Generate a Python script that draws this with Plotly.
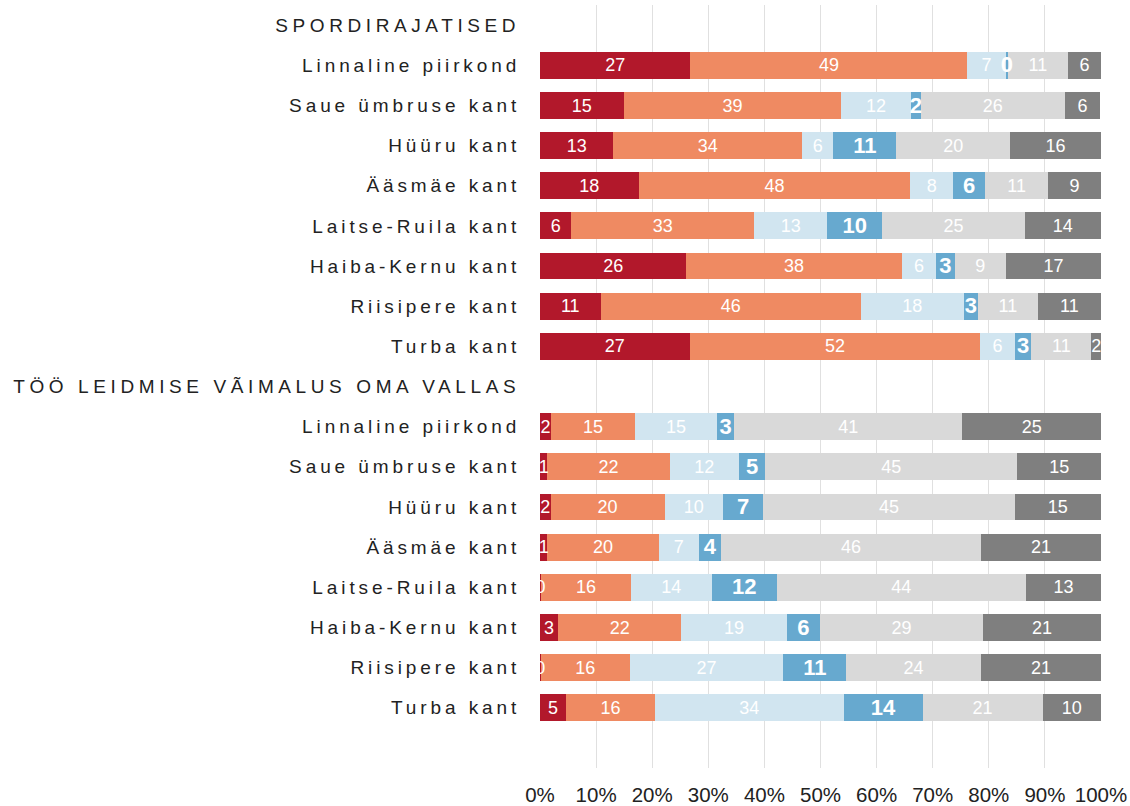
import plotly.graph_objects as go

# ---- data ----
groups = ["SPORDIRAJATISED", "TÖÖ LEIDMISE VÃIMALUS OMA VALLAS"]
areas = ["Linnaline piirkond", "Saue ümbruse kant", "Hüüru kant", "Ääsmäe kant",
         "Laitse-Ruila kant", "Haiba-Kernu kant", "Riisipere kant", "Turba kant"]
series_names = ["1", "2", "3", "4", "5", "6"]

# SPORDIRAJATISED (percent of respondents per answer category)
sport_s1 = [26.8, 14.9, 13.1, 17.6, 5.6, 26.1, 10.8, 26.7]
sport_s2 = [49.4, 38.8, 33.6, 48.4, 32.6, 38.4, 46.4, 51.8]
sport_s3 = [6.8, 12.4, 5.6, 7.7, 13.0, 6.1, 18.3, 6.1]
sport_s4 = [0.4, 1.8, 11.2, 5.6, 9.8, 3.3, 2.6, 3.0]
sport_s5 = [10.7, 25.6, 20.3, 11.3, 25.4, 9.2, 10.6, 10.7]
sport_s6 = [5.9, 6.4, 16.2, 9.4, 13.6, 16.9, 11.3, 1.7]

# TÖÖ LEIDMISE VÕIMALUS OMA VALLAS
job_s1 = [2.0, 1.3, 1.9, 1.3, 0.2, 3.2, 0.1, 4.6]
job_s2 = [14.9, 21.8, 20.3, 19.9, 16.0, 22.0, 15.9, 15.9]
job_s3 = [14.7, 12.4, 10.4, 7.1, 14.4, 18.8, 27.4, 33.6]
job_s4 = [3.0, 4.6, 7.2, 4.0, 11.6, 5.9, 11.2, 14.1]
job_s5 = [40.7, 45.0, 44.8, 46.3, 44.4, 29.1, 24.0, 21.4]
job_s6 = [24.7, 14.9, 15.4, 21.4, 13.4, 21.0, 21.4, 10.4]

x_ticks = [0, 10, 20, 30, 40, 50, 60, 70, 80, 90, 100]
x_tick_labels = [f"{v}%" for v in x_ticks]

# ---- styles ----
colors = ["#b2182b", "#ef8a62", "#d1e5f0", "#67a9cf", "#d9d9d9", "#7f7f7f"]
FONT = "Liberation Sans, Arial, Helvetica, sans-serif"
TEXT_DY = 0.04  # small vertical nudge so digits sit centred in the bars

sport = [sport_s1, sport_s2, sport_s3, sport_s4, sport_s5, sport_s6]
job = [job_s1, job_s2, job_s3, job_s4, job_s5, job_s6]

# y layout: header, 8 rows, header, 8 rows (top to bottom)
tick_text = [groups[0]] + areas + [groups[1]] + areas
tick_vals = list(range(len(tick_text)))
y_sport = [1 + i for i in range(len(areas))]
y_job = [2 + len(areas) + i for i in range(len(areas))]
ys = y_sport + y_job

fig = go.Figure()
all_series = [sport[k] + job[k] for k in range(6)]

# bars
for k in range(6):
    fig.add_trace(go.Bar(
        x=all_series[k], y=ys, orientation="h", name=series_names[k],
        marker=dict(color=colors[k], line=dict(width=0)),
        width=0.67, hoverinfo="skip", showlegend=False,
    ))

# value labels drawn on top of all bars (centre of each segment)
cum = [0.0] * len(ys)
for k in range(6):
    mids = []
    for i, v in enumerate(all_series[k]):
        mids.append(cum[i] + v / 2)
        cum[i] += v
    bold = (k == 3)
    fig.add_trace(go.Scatter(
        x=mids, y=[y + TEXT_DY for y in ys], mode="text",
        text=[f"{v:.0f}" for v in all_series[k]],
        textposition="middle center",
        textfont=dict(family=FONT, color="white",
                      size=22 if bold else 18,
                      weight="bold" if bold else "normal"),
        hoverinfo="skip", showlegend=False, cliponaxis=True,
    ))

fig.update_layout(
    barmode="stack",
    width=1130, height=806,
    margin=dict(l=540, r=29, t=5, b=38, autoexpand=False),
    paper_bgcolor="white", plot_bgcolor="white",
    font=dict(family=FONT, color="#222222"),
    bargap=0,
)
fig.update_xaxes(
    range=[0, 100], tickvals=x_ticks, ticktext=x_tick_labels,
    showgrid=True, gridcolor="#e0e0e0", gridwidth=1,
    zeroline=False, showline=False,
    ticks="outside", ticklen=8, tickcolor="rgba(0,0,0,0)",
    tickfont=dict(family=FONT, size=20.5, color="#222222"),
    automargin=False, fixedrange=True,
)
fig.update_yaxes(
    range=[len(tick_text) + 0.5, -0.5],
    tickvals=tick_vals, ticktext=tick_text,
    showgrid=False, zeroline=False, showline=False,
    ticks="outside", ticklen=15, tickcolor="rgba(0,0,0,0)",
    tickfont=dict(family=FONT, size=19, color="#222222"),
    automargin=False, fixedrange=True,
)

post = """
document.body.style.margin='0';
document.querySelectorAll('.ytick text').forEach(function(t){
  var s = t.textContent;
  t.setAttribute('letter-spacing', (s === s.toUpperCase()) ? '4.6px' : '3.9px');
});
"""
fig.write_html("out.html", post_script=post, config={"staticPlot": True})
